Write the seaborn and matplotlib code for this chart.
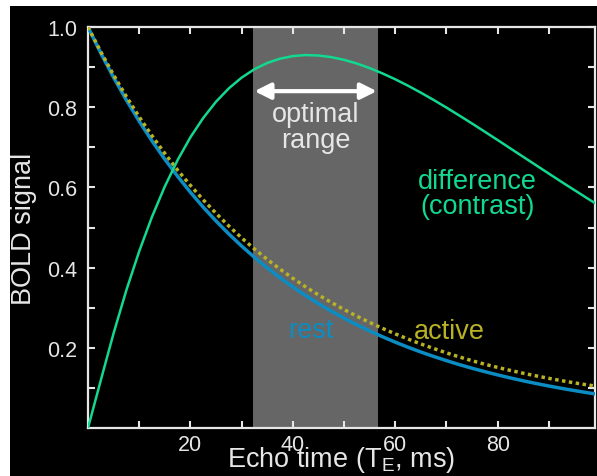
import numpy as np
import pandas as pd
import matplotlib
matplotlib.use("Agg")
import matplotlib.pyplot as plt
import seaborn as sns
from matplotlib.patches import Rectangle

# ---- data ----
echo_time = [0, 2.5, 5, 7.5, 10, 12.5, 15, 17.5, 20, 22.5, 25, 27.5, 30, 32.5, 35,
             37.5, 40, 42.5, 45, 47.5, 50, 52.5, 55, 57.5, 60, 62.5, 65, 67.5, 70,
             72.5, 75, 77.5, 80, 82.5, 85, 87.5, 90, 92.5, 95, 97.5, 100]
rest = [1.000, 0.9348, 0.8741, 0.8176, 0.7650, 0.7159, 0.6702, 0.6276, 0.5878, 0.5507,
        0.5162, 0.4839, 0.4537, 0.4256, 0.3993, 0.3747, 0.3517, 0.3302, 0.3102, 0.2914,
        0.2738, 0.2574, 0.2420, 0.2276, 0.2141, 0.2014, 0.1895, 0.1784, 0.1680, 0.1581,
        0.1490, 0.1405, 0.1324, 0.1248, 0.1176, 0.1110, 0.1047, 0.0988, 0.0933, 0.0880,
        0.0831]
active = [1.000, 0.9381, 0.8802, 0.8263, 0.7758, 0.7287, 0.6847, 0.6431, 0.6050, 0.5690,
          0.5353, 0.5037, 0.4741, 0.4464, 0.4204, 0.3962, 0.3734, 0.3520, 0.3319, 0.3131,
          0.2954, 0.2788, 0.2632, 0.2485, 0.2347, 0.2218, 0.2096, 0.1982, 0.1874, 0.1772,
          0.1677, 0.1590, 0.1510, 0.1435, 0.1365, 0.1300, 0.1238, 0.1180, 0.1125, 0.1075,
          0.1030]
difference = [0.0, 0.1191, 0.2364, 0.3441, 0.4408, 0.5268, 0.6024, 0.6683, 0.7250, 0.7732,
              0.8137, 0.8470, 0.8738, 0.8948, 0.9103, 0.9210, 0.9275, 0.9300, 0.9289, 0.9249,
              0.9181, 0.9089, 0.8975, 0.8843, 0.8696, 0.8535, 0.8362, 0.8180, 0.7990, 0.7793,
              0.7592, 0.7387, 0.7180, 0.6970, 0.6761, 0.6552, 0.6343, 0.6135, 0.5931, 0.5728,
              0.5528]
optimal_range = [32.3, 56.6]
x_ticks = [20, 40, 60, 80]
y_ticks = [0.2, 0.4, 0.6, 0.8, 1.0]

df = pd.DataFrame({"te": echo_time, "rest": rest, "active": active, "diff": difference})

plt.rcParams["font.family"] = ["Liberation Sans", "DejaVu Sans"]
plt.rcParams["mathtext.fontset"] = "custom"
plt.rcParams["mathtext.rm"] = "Liberation Sans"
plt.rcParams["mathtext.it"] = "Liberation Sans:italic"

FG = "#e6e6e6"
C_REST = "#0b8cc2"
C_ACT = "#b8b224"
C_DIFF = "#12d890"

fig = plt.figure(figsize=(5.97, 4.77), dpi=100, facecolor="white")
fig.patches.append(Rectangle((10 / 597, 0), 1 - 10 / 597, 470 / 477,
                             transform=fig.transFigure, facecolor="black",
                             edgecolor="none", zorder=-10))
ax = fig.add_axes([88 / 597, 48 / 477, (595 - 88) / 597, (429 - 28) / 477])
ax.set_facecolor("black")

ax.axvspan(optimal_range[0], optimal_range[1], color="#666666", lw=0, zorder=1)

sns.lineplot(data=df, x="te", y="rest", ax=ax, color=C_REST, lw=2.5, zorder=3)
sns.lineplot(data=df, x="te", y="active", ax=ax, color=C_ACT, lw=2.5,
             linestyle=(0, (1, 1.0)), zorder=4)
sns.lineplot(data=df, x="te", y="diff", ax=ax, color=C_DIFF, lw=1.8, zorder=5)

ax.set_xlim(0, 99)
ax.set_ylim(0, 1.0)
ax.set_xticks(x_ticks)
ax.set_xticks([10, 30, 50, 70, 90], minor=True)
ax.set_yticks(y_ticks)
ax.set_yticks([0.1, 0.3, 0.5, 0.7, 0.9], minor=True)
ax.set_xticklabels([str(v) for v in x_ticks])
ax.set_yticklabels([f"{v:.1f}" for v in y_ticks])
for which in ("major", "minor"):
    ax.tick_params(axis="both", which=which, direction="in", length=5, width=1.5,
                   color=FG, top=True, right=True)
ax.tick_params(axis="both", which="major", labelsize=15.5, labelcolor=FG, pad=4)
ax.tick_params(axis="y", which="major", pad=8)
for s in ax.spines.values():
    s.set_color(FG)
    s.set_linewidth(1.6)

ax.set_xlabel("Echo time (T$_\\mathrm{E}$, ms)", fontsize=19.5, color=FG)
ax.xaxis.set_label_coords(0.5, -0.040)
ax.set_ylabel("BOLD signal", fontsize=19.5, color=FG)
ax.yaxis.set_label_coords(-0.100, 0.5)

ax.annotate("", xy=(optimal_range[0] + 0.2, 0.84), xytext=(optimal_range[1] - 0.2, 0.84),
            arrowprops=dict(arrowstyle="<|-|>", color="white", lw=3,
                            mutation_scale=24, shrinkA=0, shrinkB=0), zorder=6)
ax.text(44.5, 0.750, "optimal\nrange", color=FG, fontsize=19.5, ha="center", va="center",
        linespacing=1.0, zorder=6)
ax.text(76.0, 0.584, "difference\n(contrast)", color=C_DIFF, fontsize=19.5, ha="center",
        va="center", linespacing=0.95, zorder=6)
ax.text(43.6, 0.244, "rest", color=C_REST, fontsize=19.5, ha="center", va="center", zorder=6)
ax.text(70.5, 0.242, "active", color=C_ACT, fontsize=19.5, ha="center", va="center", zorder=6)

fig.savefig("out.png", dpi=100, facecolor=fig.get_facecolor())
